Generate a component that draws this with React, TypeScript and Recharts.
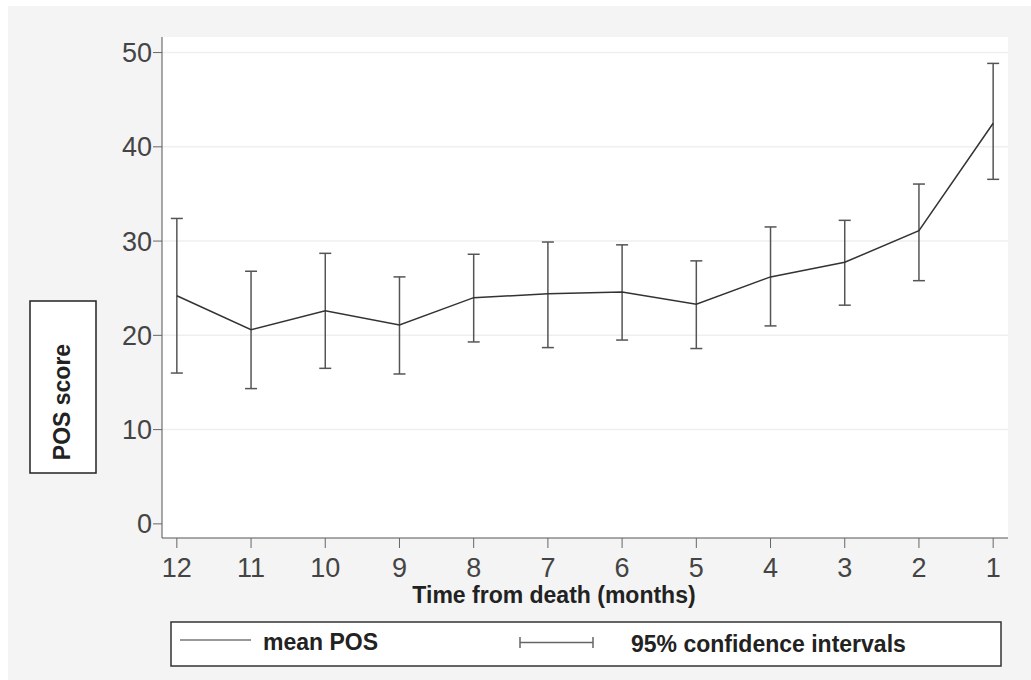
import { CartesianGrid, ErrorBar, Line, LineChart, ReferenceLine, XAxis, YAxis } from 'recharts';

const months = [12, 11, 10, 9, 8, 7, 6, 5, 4, 3, 2, 1];
const meanPos = [24.2, 20.6, 22.6, 21.1, 24.0, 24.4, 24.6, 23.3, 26.2, 27.75, 31.1, 42.5];
const lowerCi = [16.0, 14.35, 16.5, 15.9, 19.3, 18.7, 19.5, 18.6, 21.0, 23.2, 25.8, 36.55];
const upperCi = [32.4, 26.8, 28.7, 26.2, 28.6, 29.9, 29.6, 27.9, 31.5, 32.2, 36.05, 48.85];
const yTicks = [0, 10, 20, 30, 40, 50];
const gridValues = [10, 20, 30, 40, 50];

const data = months.map((m, i) => ({
  month: m,
  mean: meanPos[i],
  ci: [meanPos[i] - lowerCi[i], upperCi[i] - meanPos[i]],
}));

const FONT = '"Liberation Sans", Arial, sans-serif';
const tickStyle = { fontSize: 27, fill: '#444', fontFamily: FONT };

export default function App() {
  return (
    <div style={{ position: 'absolute', left: 0, top: 0, width: 1031, height: 680, background: '#fff', overflow: 'hidden' }}>
      <div style={{ position: 'absolute', left: 8, top: 6, right: 0, bottom: 0, background: '#f4f4f4' }} />
      <div style={{ position: 'absolute', left: 0, top: 0 }}>
        <LineChart width={1031} height={680} data={data} margin={{ top: 37, right: 23, bottom: 102, left: 102 }}>
          <CartesianGrid fill="#fff" horizontal={false} vertical={false} />
          {gridValues.map((v) => (
            <ReferenceLine key={v} y={v} stroke="#efefef" strokeWidth={1.5} />
          ))}
          <XAxis
            dataKey="month"
            type="number"
            domain={[0.8, 12.2]}
            reversed
            ticks={months}
            interval={0}
            height={40}
            tick={tickStyle}
            tickSize={10}
            tickMargin={10}
            tickLine={{ stroke: '#666' }}
            axisLine={{ stroke: '#555' }}
          />
          <YAxis
            type="number"
            domain={[-1.5, 51.65]}
            ticks={yTicks}
            interval={0}
            width={60}
            tick={tickStyle}
            tickSize={9}
            tickMargin={1}
            tickLine={{ stroke: '#666' }}
            axisLine={{ stroke: '#555' }}
          />
          <Line dataKey="mean" stroke="#333" strokeWidth={1.5} dot={false} isAnimationActive={false}>
            <ErrorBar dataKey="ci" direction="y" width={6} stroke="#555" strokeWidth={1.5} isAnimationActive={false} />
          </Line>
        </LineChart>
      </div>
      <svg width={1031} height={680} style={{ position: 'absolute', left: 0, top: 0, pointerEvents: 'none' }} fontFamily={FONT}>
        <text x={554} y={603} textAnchor="middle" fontSize={23} fontWeight="bold" fill="#222">
          Time from death (months)
        </text>
        <rect x={30} y={301} width={66} height={172} fill="#fff" stroke="#222" strokeWidth={1.5} />
        <text x={70} y={402} transform="rotate(-90, 70, 402)" textAnchor="middle" fontSize={23} fontWeight="bold" fill="#222">
          POS score
        </text>
        <rect x={171} y={622} width={830} height={44} fill="#fff" stroke="#333" strokeWidth={1.5} />
        <line x1={180} y1={640} x2={251} y2={640} stroke="#777" strokeWidth={1.5} />
        <text x={263} y={650} fontSize={23} fontWeight="bold" fill="#222">mean POS</text>
        <line x1={520} y1={642.5} x2={593} y2={642.5} stroke="#666" strokeWidth={1.5} />
        <line x1={520} y1={637} x2={520} y2={648} stroke="#666" strokeWidth={1.5} />
        <line x1={593} y1={637} x2={593} y2={648} stroke="#666" strokeWidth={1.5} />
        <text x={631} y={652} fontSize={23} fontWeight="bold" fill="#222">95% confidence intervals</text>
      </svg>
    </div>
  );
}
